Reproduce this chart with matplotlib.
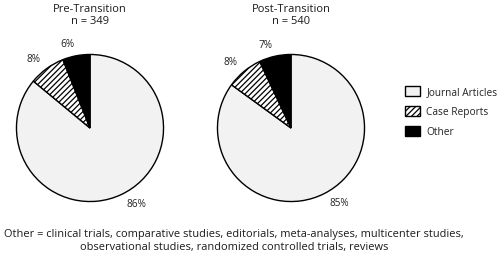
import matplotlib.pyplot as plt
from matplotlib.patches import Patch

plt.rcParams['font.family'] = ['Open Sans', 'DejaVu Sans']
plt.rcParams['hatch.linewidth'] = 0.9

categories = ["Journal Articles", "Case Reports", "Other"]
pre_vals = [86, 8, 6]
post_vals = [85, 8, 7]
titles = ["Pre-Transition", "Post-Transition"]
n_vals = [349, 540]
footnote = ("Other = clinical trials, comparative studies, editorials, meta-analyses, multicenter studies,\n"
            "observational studies, randomized controlled trials, reviews")

colors = ["#f2f2f2", "white", "black"]
hatches = [None, "//////", None]

W, H = 500, 265
fig = plt.figure(figsize=(5, 2.65), dpi=100)

centers = [(90, 128), (291, 128)]
radius = 75

for (cx, cy), vals, title, n in zip(centers, [pre_vals, post_vals], titles, n_vals):
    ax = fig.add_axes([(cx - radius) / W, (H - cy - radius) / H, 2 * radius / W, 2 * radius / H])
    wedges, texts = ax.pie(vals, colors=colors, startangle=90, counterclock=False,
                           labels=[f"{v}%" for v in vals], labeldistance=1.15,
                           wedgeprops=dict(edgecolor="black", linewidth=1.0),
                           textprops=dict(fontsize=7.2, color="#222222"))
    for w, h in zip(wedges, hatches):
        if h:
            w.set_hatch(h)
    ax.set_xlim(-1.02, 1.02)
    ax.set_ylim(-1.02, 1.02)
    ax.set_aspect("equal")
    ax.axis("off")
    fig.text(cx / W, 1 - 9 / H, title, ha="center", va="center", fontsize=8,
             fontweight="medium", color="#1a1a1a")
    fig.text(cx / W, 1 - 22 / H, f"n = {n}", ha="center", va="center", fontsize=8,
             fontweight="medium", color="#1a1a1a")

handles = [Patch(facecolor=c, edgecolor="black", hatch=h, linewidth=1.0) for c, h in zip(colors, hatches)]
fig.legend(handles, categories, loc="center left", bbox_to_anchor=(396 / W, 1 - 112 / H),
           frameon=False, fontsize=7.3, handlelength=1.5, handleheight=1.1,
           labelspacing=0.85, handletextpad=0.6, labelcolor="#222222")

fig.text(234 / W, 1 - 241 / H, footnote, ha="center", va="center", fontsize=7.9,
         color="#1a1a1a", linespacing=1.3)

fig.savefig("out.png", dpi=100)
